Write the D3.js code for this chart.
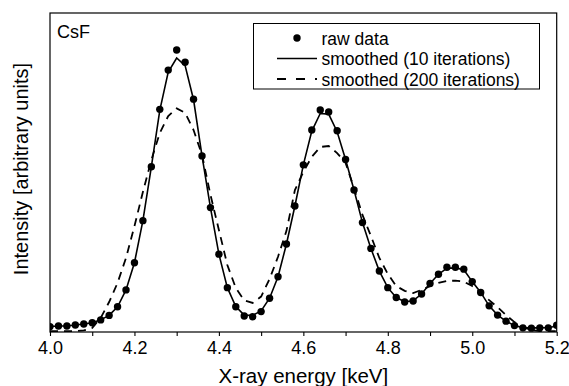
<!DOCTYPE html>
<html><head><meta charset="utf-8">
<script src="https://cdn.jsdelivr.net/npm/d3@7"></script>
<style>
body{margin:0;background:#fff;}
text{font-family:"Liberation Sans",Arial,sans-serif;fill:#000;}
</style></head>
<body>
<svg id="chart" width="569" height="386"></svg>
<script>
const energies = d3.range(61).map(i => +(4 + i * 0.02).toFixed(2));
const rawData = [17,19,19,22,25,29,38,52,79,132,217,349,518,698,821,884,846,730,552,390,244,139,79,50,48,64,106,173,276,395,524,633,696,690,631,541,445,343,262,191,139,108,94,97,119,152,181,203,203,197,158,124,82,53,34,20,13,12,13,13,21];
const smooth10 = [17,19,19,22,25,29,38,52,79,132,217,349,518,695,815,859,835,728,552,390,244,139,80,53,52,66,106,173,276,395,524,630,685,683,628,541,445,343,262,191,139,108,95,98,119,152,181,200,201,195,158,124,82,53,34,20,14,13,13,14,18];
const smooth200 = [3,3,3,3,5,13,44,94,154,232,332,439,539,624,677,701,687,633,555,430,320,210,138,99,91,111,166,236,317,445,502,549,580,583,561,530,451,367,301,232,182,144,129,122,132,144,154,160,161,158,144,122,100,78,53,31,16,6,3,3,3];
const xTicks = [4.0,4.2,4.4,4.6,4.8,5.0,5.2];
const xMinorTicks = [4.1,4.3,4.5,4.7,4.9,5.1];
const legendLabels = ["raw data","smoothed (10 iterations)","smoothed (200 iterations)"];

const svg = d3.select("#chart");
const L = 50, R = 556.7, T = 13, B = 332;
const x = d3.scaleLinear().domain([4.0, 5.2]).range([L, R]);
const y = d3.scaleLinear().domain([0, 1000]).range([B, T]);

svg.append("defs").append("clipPath").attr("id","clip")
  .append("rect").attr("x",L).attr("y",T).attr("width",R-L).attr("height",B-T);

const plot = svg.append("g").attr("clip-path","url(#clip)");
const line = d3.line().x((d,i)=>x(energies[i])).y(d=>y(d));

plot.append("path").datum(smooth200).attr("d",line)
  .attr("fill","none").attr("stroke","#000").attr("stroke-width",1.8)
  .attr("stroke-dasharray","8,6");
plot.append("path").datum(smooth10).attr("d",line)
  .attr("fill","none").attr("stroke","#000").attr("stroke-width",1.6);
plot.selectAll("circle.pt").data(rawData).enter().append("circle")
  .attr("class","pt").attr("cx",(d,i)=>x(energies[i])).attr("cy",d=>y(d))
  .attr("r",3.7).attr("fill","#000");

// frame
svg.append("rect").attr("x",L).attr("y",T).attr("width",R-L).attr("height",B-T)
  .attr("fill","none").attr("stroke","#000").attr("stroke-width",1.2);

// x axis
const xAxis = d3.axisBottom(x).tickValues(xTicks).tickFormat(d3.format(".1f"))
  .tickSizeInner(4).tickSizeOuter(0).tickPadding(5);
const gx = svg.append("g").attr("transform",`translate(0,${B})`).call(xAxis);
gx.select(".domain").remove();
gx.selectAll("text").style("font-size","18px").attr("fill","#000")
  .attr("font-family","'Liberation Sans',Arial,sans-serif");
gx.selectAll("line").attr("stroke","#000").attr("stroke-width",1.1);
const gxm = svg.append("g").attr("transform",`translate(0,${B})`)
  .call(d3.axisBottom(x).tickValues(xMinorTicks).tickFormat("").tickSizeInner(4).tickSizeOuter(0));
gxm.select(".domain").remove();
gxm.selectAll("line").attr("stroke","#000").attr("stroke-width",1.1);

// axis titles
svg.append("text").attr("x",(L+R)/2).attr("y",382.5).attr("text-anchor","middle")
  .style("font-size","20.5px").text("X-ray energy [keV]");
svg.append("text").attr("transform",`translate(28,169) rotate(-90)`)
  .attr("text-anchor","middle").style("font-size","20px").text("Intensity [arbitrary units]");

// label
svg.append("text").attr("x",57).attr("y",38).style("font-size","18px").text("CsF");

// legend
const lg = svg.append("g");
lg.append("rect").attr("x",253.5).attr("y",23.5).attr("width",286).attr("height",65.5)
  .attr("fill","#fff").attr("stroke","#000").attr("stroke-width",1);
const rowY = [38, 58.5, 79];
lg.append("circle").attr("cx",297).attr("cy",rowY[0]).attr("r",3.7).attr("fill","#000");
lg.append("line").attr("x1",277).attr("x2",317).attr("y1",rowY[1]).attr("y2",rowY[1])
  .attr("stroke","#000").attr("stroke-width",1.6);
lg.append("line").attr("x1",277).attr("x2",317).attr("y1",rowY[2]).attr("y2",rowY[2])
  .attr("stroke","#000").attr("stroke-width",1.8).attr("stroke-dasharray","9,10");
legendLabels.forEach((t,i)=>{
  lg.append("text").attr("x",321.5).attr("y",rowY[i]+6.5).style("font-size","17.5px").text(t);
});
</script>
</body></html>
